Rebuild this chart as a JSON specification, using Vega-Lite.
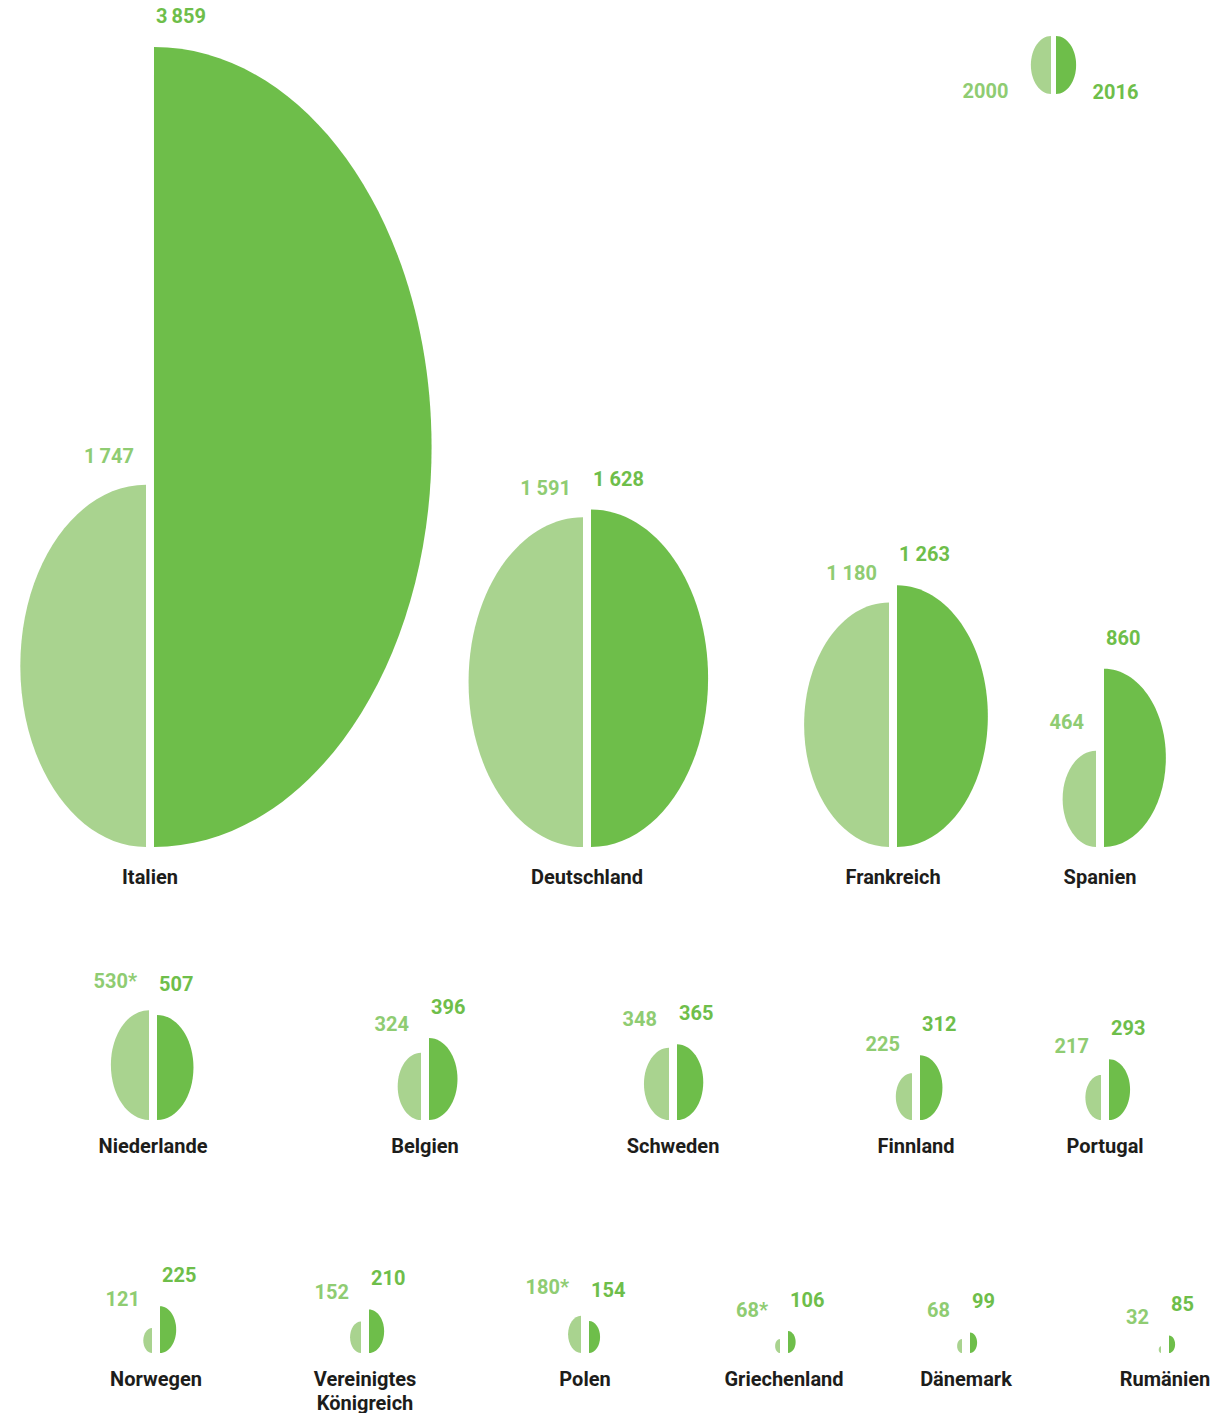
{
"$schema":"https://vega.github.io/schema/vega-lite/v6.json",
"padding":0,
"background":"white",
"spacing":0,
"config":{"view":{"stroke":null},"font":"Roboto","point":{"filled":true,"opacity":1,"strokeWidth":0},"text":{"fontSize":20,"fontWeight":"bold"}},
"data":{"values":[
{"country":"Italien","year":"2000","value":1747,"label":"1\u2009747"},
{"country":"Italien","year":"2016","value":3859,"label":"3\u2009859"},
{"country":"Deutschland","year":"2000","value":1591,"label":"1 591"},
{"country":"Deutschland","year":"2016","value":1628,"label":"1 628"},
{"country":"Frankreich","year":"2000","value":1180,"label":"1 180"},
{"country":"Frankreich","year":"2016","value":1263,"label":"1 263"},
{"country":"Spanien","year":"2000","value":464,"label":"464"},
{"country":"Spanien","year":"2016","value":860,"label":"860"},
{"country":"Niederlande","year":"2000","value":530,"label":"530*"},
{"country":"Niederlande","year":"2016","value":507,"label":"507"},
{"country":"Belgien","year":"2000","value":324,"label":"324"},
{"country":"Belgien","year":"2016","value":396,"label":"396"},
{"country":"Schweden","year":"2000","value":348,"label":"348"},
{"country":"Schweden","year":"2016","value":365,"label":"365"},
{"country":"Finnland","year":"2000","value":225,"label":"225"},
{"country":"Finnland","year":"2016","value":312,"label":"312"},
{"country":"Portugal","year":"2000","value":217,"label":"217"},
{"country":"Portugal","year":"2016","value":293,"label":"293"},
{"country":"Norwegen","year":"2000","value":121,"label":"121"},
{"country":"Norwegen","year":"2016","value":225,"label":"225"},
{"country":"Vereinigtes Königreich","year":"2000","value":152,"label":"152"},
{"country":"Vereinigtes Königreich","year":"2016","value":210,"label":"210"},
{"country":"Polen","year":"2000","value":180,"label":"180*"},
{"country":"Polen","year":"2016","value":154,"label":"154"},
{"country":"Griechenland","year":"2000","value":68,"label":"68*"},
{"country":"Griechenland","year":"2016","value":106,"label":"106"},
{"country":"Dänemark","year":"2000","value":68,"label":"68"},
{"country":"Dänemark","year":"2016","value":99,"label":"99"},
{"country":"Rumänien","year":"2000","value":32,"label":"32"},
{"country":"Rumänien","year":"2016","value":85,"label":"85"}
]},
"vconcat":[
{"spacing":0,"bounds":"flush","hconcat":[
{"width":587,"height":905,"encoding":{"x":{"datum":0.2555,"type":"quantitative","scale":{"domain":[0,1]},"axis":null}},"layer":[{"transform":[{"filter":"datum.country==='Italien'"}],"layer":[
{"encoding":{"y":{"datum":0,"type":"quantitative","scale":{"domain":[-279.8,4086],"nice":false,"zero":false},"axis":null},"size":{"field":"value","type":"quantitative","scale":{"type":"pow","exponent":2,"domain":[0,4000],"range":[0,687573]},"legend":null},"color":{"field":"year","type":"nominal","scale":{"domain":["2000","2016"],"range":["#a9d38f","#6ebe4a"]},"legend":null}},"layer":[{"transform":[{"filter":"datum.year==='2000'"}],"mark":{"type":"point","shape":"M0,0L0,-2A0.694,1,0,0,0,0,0Z","xOffset":-4}},{"transform":[{"filter":"datum.year==='2016'"}],"mark":{"type":"point","shape":"M0,0L0,-2A0.694,1,0,0,1,0,0Z","xOffset":4}}]},
{"transform":[{"filter":"datum.year==='2000'"}],"mark":{"type":"text","align":"right","dx":-16,"dy":-28,"fill":"#8fcc72"},"encoding":{"y":{"field":"value","type":"quantitative"},"text":{"field":"label"}}},
{"transform":[{"filter":"datum.year==='2016'"}],"mark":{"type":"text","align":"left","dx":6,"dy":-30,"fill":"#6ebe4a"},"encoding":{"y":{"field":"value","type":"quantitative"},"text":{"field":"label"}}},
{"transform":[{"filter":"datum.year==='2016'"}],"mark":{"type":"text","baseline":"top","dy":21,"fill":"#1d1d1b","lineBreak":" ","lineHeight":24},"encoding":{"y":{"datum":0,"type":"quantitative"},"text":{"field":"country"}}}
]}]},
{"width":306,"height":905,"encoding":{"x":{"datum":0,"type":"quantitative","scale":{"domain":[0,1]},"axis":null}},"layer":[{"transform":[{"filter":"datum.country==='Deutschland'"}],"layer":[
{"encoding":{"y":{"datum":0,"type":"quantitative","scale":{"domain":[-279.8,4086],"nice":false,"zero":false},"axis":null},"size":{"field":"value","type":"quantitative","scale":{"type":"pow","exponent":2,"domain":[0,4000],"range":[0,687573]},"legend":null},"color":{"field":"year","type":"nominal","scale":{"domain":["2000","2016"],"range":["#a9d38f","#6ebe4a"]},"legend":null}},"layer":[{"transform":[{"filter":"datum.year==='2000'"}],"mark":{"type":"point","shape":"M0,0L0,-2A0.694,1,0,0,0,0,0Z","xOffset":-4}},{"transform":[{"filter":"datum.year==='2016'"}],"mark":{"type":"point","shape":"M0,0L0,-2A0.694,1,0,0,1,0,0Z","xOffset":4}}]},
{"transform":[{"filter":"datum.year==='2000'"}],"mark":{"type":"text","align":"right","dx":-16,"dy":-28,"fill":"#8fcc72"},"encoding":{"y":{"field":"value","type":"quantitative"},"text":{"field":"label"}}},
{"transform":[{"filter":"datum.year==='2016'"}],"mark":{"type":"text","align":"left","dx":6,"dy":-30,"fill":"#6ebe4a"},"encoding":{"y":{"field":"value","type":"quantitative"},"text":{"field":"label"}}},
{"transform":[{"filter":"datum.year==='2016'"}],"mark":{"type":"text","baseline":"top","dy":21,"fill":"#1d1d1b","lineBreak":" ","lineHeight":24},"encoding":{"y":{"datum":0,"type":"quantitative"},"text":{"field":"country"}}}
]}]},
{"width":207,"height":905,"encoding":{"x":{"datum":0,"type":"quantitative","scale":{"domain":[0,1]},"axis":null}},"layer":[{"transform":[{"filter":"datum.country==='Frankreich'"}],"layer":[
{"encoding":{"y":{"datum":0,"type":"quantitative","scale":{"domain":[-279.8,4086],"nice":false,"zero":false},"axis":null},"size":{"field":"value","type":"quantitative","scale":{"type":"pow","exponent":2,"domain":[0,4000],"range":[0,687573]},"legend":null},"color":{"field":"year","type":"nominal","scale":{"domain":["2000","2016"],"range":["#a9d38f","#6ebe4a"]},"legend":null}},"layer":[{"transform":[{"filter":"datum.year==='2000'"}],"mark":{"type":"point","shape":"M0,0L0,-2A0.694,1,0,0,0,0,0Z","xOffset":-4}},{"transform":[{"filter":"datum.year==='2016'"}],"mark":{"type":"point","shape":"M0,0L0,-2A0.694,1,0,0,1,0,0Z","xOffset":4}}]},
{"transform":[{"filter":"datum.year==='2000'"}],"mark":{"type":"text","align":"right","dx":-16,"dy":-28,"fill":"#8fcc72"},"encoding":{"y":{"field":"value","type":"quantitative"},"text":{"field":"label"}}},
{"transform":[{"filter":"datum.year==='2016'"}],"mark":{"type":"text","align":"left","dx":6,"dy":-30,"fill":"#6ebe4a"},"encoding":{"y":{"field":"value","type":"quantitative"},"text":{"field":"label"}}},
{"transform":[{"filter":"datum.year==='2016'"}],"mark":{"type":"text","baseline":"top","dy":21,"fill":"#1d1d1b","lineBreak":" ","lineHeight":24},"encoding":{"y":{"datum":0,"type":"quantitative"},"text":{"field":"country"}}}
]}]},
{"width":111,"height":905,"encoding":{"x":{"datum":0,"type":"quantitative","scale":{"domain":[0,1]},"axis":null}},"layer":[{"transform":[{"filter":"datum.country==='Spanien'"}],"layer":[
{"encoding":{"y":{"datum":0,"type":"quantitative","scale":{"domain":[-279.8,4086],"nice":false,"zero":false},"axis":null},"size":{"field":"value","type":"quantitative","scale":{"type":"pow","exponent":2,"domain":[0,4000],"range":[0,687573]},"legend":null},"color":{"field":"year","type":"nominal","scale":{"domain":["2000","2016"],"range":["#a9d38f","#6ebe4a"]},"legend":null}},"layer":[{"transform":[{"filter":"datum.year==='2000'"}],"mark":{"type":"point","shape":"M0,0L0,-2A0.694,1,0,0,0,0,0Z","xOffset":-4}},{"transform":[{"filter":"datum.year==='2016'"}],"mark":{"type":"point","shape":"M0,0L0,-2A0.694,1,0,0,1,0,0Z","xOffset":4}}]},
{"transform":[{"filter":"datum.year==='2000'"}],"mark":{"type":"text","align":"right","dx":-16,"dy":-28,"fill":"#8fcc72"},"encoding":{"y":{"field":"value","type":"quantitative"},"text":{"field":"label"}}},
{"transform":[{"filter":"datum.year==='2016'"}],"mark":{"type":"text","align":"left","dx":6,"dy":-30,"fill":"#6ebe4a"},"encoding":{"y":{"field":"value","type":"quantitative"},"text":{"field":"label"}}},
{"transform":[{"filter":"datum.year==='2016'"}],"mark":{"type":"text","baseline":"top","dy":21,"fill":"#1d1d1b","lineBreak":" ","lineHeight":24},"encoding":{"y":{"datum":0,"type":"quantitative"},"text":{"field":"country"}}}
]},
{"data":{"values":[{"year":"2000","value":280},{"year":"2016","value":280}]},"encoding":{"x":{"datum":-0.419,"type":"quantitative"},"y":{"datum":3632,"type":"quantitative"}},"layer":[
{"transform":[{"filter":"datum.year==='2000'"}],"mark":{"type":"point","shape":"M0,0L0,-2A0.694,1,0,0,0,0,0Z","xOffset":-2.5},"encoding":{"size":{"field":"value","type":"quantitative","scale":{"type":"pow","exponent":2,"domain":[0,4000],"range":[0,687573]},"legend":null},"color":{"field":"year","type":"nominal","scale":{"domain":["2000","2016"],"range":["#a9d38f","#6ebe4a"]},"legend":null}}},
{"transform":[{"filter":"datum.year==='2016'"}],"mark":{"type":"point","shape":"M0,0L0,-2A0.694,1,0,0,1,0,0Z","xOffset":2.5},"encoding":{"size":{"field":"value","type":"quantitative","scale":{"type":"pow","exponent":2,"domain":[0,4000],"range":[0,687573]},"legend":null},"color":{"field":"year","type":"nominal","scale":{"domain":["2000","2016"],"range":["#a9d38f","#6ebe4a"]},"legend":null}}},
{"transform":[{"filter":"datum.year==='2000'"}],"mark":{"type":"text","align":"right","dx":-45,"dy":-2,"fill":"#8fcc72"},"encoding":{"text":{"field":"year"}}},
{"transform":[{"filter":"datum.year==='2016'"}],"mark":{"type":"text","align":"left","dx":39,"dy":-1,"fill":"#6ebe4a"},"encoding":{"text":{"field":"year"}}}
]}]}
]},
{"spacing":0,"bounds":"flush","hconcat":[
{"width":425,"height":270,"encoding":{"x":{"datum":0.36,"type":"quantitative","scale":{"domain":[0,1]},"axis":null}},"layer":[{"transform":[{"filter":"datum.country==='Niederlande'"}],"layer":[
{"encoding":{"y":{"datum":0,"type":"quantitative","scale":{"domain":[-265.3,1037],"nice":false,"zero":false},"axis":null},"size":{"field":"value","type":"quantitative","scale":{"type":"pow","exponent":2,"domain":[0,4000],"range":[0,687573]},"legend":null},"color":{"field":"year","type":"nominal","scale":{"domain":["2000","2016"],"range":["#a9d38f","#6ebe4a"]},"legend":null}},"layer":[{"transform":[{"filter":"datum.year==='2000'"}],"mark":{"type":"point","shape":"M0,0L0,-2A0.694,1,0,0,0,0,0Z","xOffset":-4}},{"transform":[{"filter":"datum.year==='2016'"}],"mark":{"type":"point","shape":"M0,0L0,-2A0.694,1,0,0,1,0,0Z","xOffset":4}}]},
{"transform":[{"filter":"datum.year==='2000'"}],"mark":{"type":"text","align":"right","dx":-16,"dy":-28,"fill":"#8fcc72"},"encoding":{"y":{"field":"value","type":"quantitative"},"text":{"field":"label"}}},
{"transform":[{"filter":"datum.year==='2016'"}],"mark":{"type":"text","align":"left","dx":6,"dy":-30,"fill":"#6ebe4a"},"encoding":{"y":{"field":"value","type":"quantitative"},"text":{"field":"label"}}},
{"transform":[{"filter":"datum.year==='2016'"}],"mark":{"type":"text","baseline":"top","dy":17,"fill":"#1d1d1b","lineBreak":" ","lineHeight":24},"encoding":{"y":{"datum":0,"type":"quantitative"},"text":{"field":"country"}}}
]}]},
{"width":248,"height":270,"encoding":{"x":{"datum":0,"type":"quantitative","scale":{"domain":[0,1]},"axis":null}},"layer":[{"transform":[{"filter":"datum.country==='Belgien'"}],"layer":[
{"encoding":{"y":{"datum":0,"type":"quantitative","scale":{"domain":[-265.3,1037],"nice":false,"zero":false},"axis":null},"size":{"field":"value","type":"quantitative","scale":{"type":"pow","exponent":2,"domain":[0,4000],"range":[0,687573]},"legend":null},"color":{"field":"year","type":"nominal","scale":{"domain":["2000","2016"],"range":["#a9d38f","#6ebe4a"]},"legend":null}},"layer":[{"transform":[{"filter":"datum.year==='2000'"}],"mark":{"type":"point","shape":"M0,0L0,-2A0.694,1,0,0,0,0,0Z","xOffset":-4}},{"transform":[{"filter":"datum.year==='2016'"}],"mark":{"type":"point","shape":"M0,0L0,-2A0.694,1,0,0,1,0,0Z","xOffset":4}}]},
{"transform":[{"filter":"datum.year==='2000'"}],"mark":{"type":"text","align":"right","dx":-16,"dy":-28,"fill":"#8fcc72"},"encoding":{"y":{"field":"value","type":"quantitative"},"text":{"field":"label"}}},
{"transform":[{"filter":"datum.year==='2016'"}],"mark":{"type":"text","align":"left","dx":6,"dy":-30,"fill":"#6ebe4a"},"encoding":{"y":{"field":"value","type":"quantitative"},"text":{"field":"label"}}},
{"transform":[{"filter":"datum.year==='2016'"}],"mark":{"type":"text","baseline":"top","dy":17,"fill":"#1d1d1b","lineBreak":" ","lineHeight":24},"encoding":{"y":{"datum":0,"type":"quantitative"},"text":{"field":"country"}}}
]}]},
{"width":243,"height":270,"encoding":{"x":{"datum":0,"type":"quantitative","scale":{"domain":[0,1]},"axis":null}},"layer":[{"transform":[{"filter":"datum.country==='Schweden'"}],"layer":[
{"encoding":{"y":{"datum":0,"type":"quantitative","scale":{"domain":[-265.3,1037],"nice":false,"zero":false},"axis":null},"size":{"field":"value","type":"quantitative","scale":{"type":"pow","exponent":2,"domain":[0,4000],"range":[0,687573]},"legend":null},"color":{"field":"year","type":"nominal","scale":{"domain":["2000","2016"],"range":["#a9d38f","#6ebe4a"]},"legend":null}},"layer":[{"transform":[{"filter":"datum.year==='2000'"}],"mark":{"type":"point","shape":"M0,0L0,-2A0.694,1,0,0,0,0,0Z","xOffset":-4}},{"transform":[{"filter":"datum.year==='2016'"}],"mark":{"type":"point","shape":"M0,0L0,-2A0.694,1,0,0,1,0,0Z","xOffset":4}}]},
{"transform":[{"filter":"datum.year==='2000'"}],"mark":{"type":"text","align":"right","dx":-16,"dy":-28,"fill":"#8fcc72"},"encoding":{"y":{"field":"value","type":"quantitative"},"text":{"field":"label"}}},
{"transform":[{"filter":"datum.year==='2016'"}],"mark":{"type":"text","align":"left","dx":6,"dy":-30,"fill":"#6ebe4a"},"encoding":{"y":{"field":"value","type":"quantitative"},"text":{"field":"label"}}},
{"transform":[{"filter":"datum.year==='2016'"}],"mark":{"type":"text","baseline":"top","dy":17,"fill":"#1d1d1b","lineBreak":" ","lineHeight":24},"encoding":{"y":{"datum":0,"type":"quantitative"},"text":{"field":"country"}}}
]}]},
{"width":189,"height":270,"encoding":{"x":{"datum":0,"type":"quantitative","scale":{"domain":[0,1]},"axis":null}},"layer":[{"transform":[{"filter":"datum.country==='Finnland'"}],"layer":[
{"encoding":{"y":{"datum":0,"type":"quantitative","scale":{"domain":[-265.3,1037],"nice":false,"zero":false},"axis":null},"size":{"field":"value","type":"quantitative","scale":{"type":"pow","exponent":2,"domain":[0,4000],"range":[0,687573]},"legend":null},"color":{"field":"year","type":"nominal","scale":{"domain":["2000","2016"],"range":["#a9d38f","#6ebe4a"]},"legend":null}},"layer":[{"transform":[{"filter":"datum.year==='2000'"}],"mark":{"type":"point","shape":"M0,0L0,-2A0.694,1,0,0,0,0,0Z","xOffset":-4}},{"transform":[{"filter":"datum.year==='2016'"}],"mark":{"type":"point","shape":"M0,0L0,-2A0.694,1,0,0,1,0,0Z","xOffset":4}}]},
{"transform":[{"filter":"datum.year==='2000'"}],"mark":{"type":"text","align":"right","dx":-16,"dy":-28,"fill":"#8fcc72"},"encoding":{"y":{"field":"value","type":"quantitative"},"text":{"field":"label"}}},
{"transform":[{"filter":"datum.year==='2016'"}],"mark":{"type":"text","align":"left","dx":6,"dy":-30,"fill":"#6ebe4a"},"encoding":{"y":{"field":"value","type":"quantitative"},"text":{"field":"label"}}},
{"transform":[{"filter":"datum.year==='2016'"}],"mark":{"type":"text","baseline":"top","dy":17,"fill":"#1d1d1b","lineBreak":" ","lineHeight":24},"encoding":{"y":{"datum":0,"type":"quantitative"},"text":{"field":"country"}}}
]}]},
{"width":106,"height":270,"encoding":{"x":{"datum":0,"type":"quantitative","scale":{"domain":[0,1]},"axis":null}},"layer":[{"transform":[{"filter":"datum.country==='Portugal'"}],"layer":[
{"encoding":{"y":{"datum":0,"type":"quantitative","scale":{"domain":[-265.3,1037],"nice":false,"zero":false},"axis":null},"size":{"field":"value","type":"quantitative","scale":{"type":"pow","exponent":2,"domain":[0,4000],"range":[0,687573]},"legend":null},"color":{"field":"year","type":"nominal","scale":{"domain":["2000","2016"],"range":["#a9d38f","#6ebe4a"]},"legend":null}},"layer":[{"transform":[{"filter":"datum.year==='2000'"}],"mark":{"type":"point","shape":"M0,0L0,-2A0.694,1,0,0,0,0,0Z","xOffset":-4}},{"transform":[{"filter":"datum.year==='2016'"}],"mark":{"type":"point","shape":"M0,0L0,-2A0.694,1,0,0,1,0,0Z","xOffset":4}}]},
{"transform":[{"filter":"datum.year==='2000'"}],"mark":{"type":"text","align":"right","dx":-16,"dy":-28,"fill":"#8fcc72"},"encoding":{"y":{"field":"value","type":"quantitative"},"text":{"field":"label"}}},
{"transform":[{"filter":"datum.year==='2016'"}],"mark":{"type":"text","align":"left","dx":6,"dy":-30,"fill":"#6ebe4a"},"encoding":{"y":{"field":"value","type":"quantitative"},"text":{"field":"label"}}},
{"transform":[{"filter":"datum.year==='2016'"}],"mark":{"type":"text","baseline":"top","dy":17,"fill":"#1d1d1b","lineBreak":" ","lineHeight":24},"encoding":{"y":{"datum":0,"type":"quantitative"},"text":{"field":"country"}}}
]}]}
]},
{"spacing":0,"bounds":"flush","hconcat":[
{"width":365,"height":238,"encoding":{"x":{"datum":0.4274,"type":"quantitative","scale":{"domain":[0,1]},"axis":null}},"layer":[{"transform":[{"filter":"datum.country==='Norwegen'"}],"layer":[
{"encoding":{"y":{"datum":0,"type":"quantitative","scale":{"domain":[-289.4,858.7],"nice":false,"zero":false},"axis":null},"size":{"field":"value","type":"quantitative","scale":{"type":"pow","exponent":2,"domain":[0,4000],"range":[0,687573]},"legend":null},"color":{"field":"year","type":"nominal","scale":{"domain":["2000","2016"],"range":["#a9d38f","#6ebe4a"]},"legend":null}},"layer":[{"transform":[{"filter":"datum.year==='2000'"}],"mark":{"type":"point","shape":"M0,0L0,-2A0.694,1,0,0,0,0,0Z","xOffset":-4}},{"transform":[{"filter":"datum.year==='2016'"}],"mark":{"type":"point","shape":"M0,0L0,-2A0.694,1,0,0,1,0,0Z","xOffset":4}}]},
{"transform":[{"filter":"datum.year==='2000'"}],"mark":{"type":"text","align":"right","dx":-16,"dy":-28,"fill":"#8fcc72"},"encoding":{"y":{"field":"value","type":"quantitative"},"text":{"field":"label"}}},
{"transform":[{"filter":"datum.year==='2016'"}],"mark":{"type":"text","align":"left","dx":6,"dy":-30,"fill":"#6ebe4a"},"encoding":{"y":{"field":"value","type":"quantitative"},"text":{"field":"label"}}},
{"transform":[{"filter":"datum.year==='2016'"}],"mark":{"type":"text","baseline":"top","dy":17,"fill":"#1d1d1b","lineBreak":" ","lineHeight":24},"encoding":{"y":{"datum":0,"type":"quantitative"},"text":{"field":"country"}}}
]}]},
{"width":220,"height":238,"encoding":{"x":{"datum":0,"type":"quantitative","scale":{"domain":[0,1]},"axis":null}},"layer":[{"transform":[{"filter":"datum.country==='Vereinigtes Königreich'"}],"layer":[
{"encoding":{"y":{"datum":0,"type":"quantitative","scale":{"domain":[-289.4,858.7],"nice":false,"zero":false},"axis":null},"size":{"field":"value","type":"quantitative","scale":{"type":"pow","exponent":2,"domain":[0,4000],"range":[0,687573]},"legend":null},"color":{"field":"year","type":"nominal","scale":{"domain":["2000","2016"],"range":["#a9d38f","#6ebe4a"]},"legend":null}},"layer":[{"transform":[{"filter":"datum.year==='2000'"}],"mark":{"type":"point","shape":"M0,0L0,-2A0.694,1,0,0,0,0,0Z","xOffset":-4}},{"transform":[{"filter":"datum.year==='2016'"}],"mark":{"type":"point","shape":"M0,0L0,-2A0.694,1,0,0,1,0,0Z","xOffset":4}}]},
{"transform":[{"filter":"datum.year==='2000'"}],"mark":{"type":"text","align":"right","dx":-16,"dy":-28,"fill":"#8fcc72"},"encoding":{"y":{"field":"value","type":"quantitative"},"text":{"field":"label"}}},
{"transform":[{"filter":"datum.year==='2016'"}],"mark":{"type":"text","align":"left","dx":6,"dy":-30,"fill":"#6ebe4a"},"encoding":{"y":{"field":"value","type":"quantitative"},"text":{"field":"label"}}},
{"transform":[{"filter":"datum.year==='2016'"}],"mark":{"type":"text","baseline":"top","dy":17,"fill":"#1d1d1b","lineBreak":" ","lineHeight":24},"encoding":{"y":{"datum":0,"type":"quantitative"},"text":{"field":"country"}}}
]}]},
{"width":199,"height":238,"encoding":{"x":{"datum":0,"type":"quantitative","scale":{"domain":[0,1]},"axis":null}},"layer":[{"transform":[{"filter":"datum.country==='Polen'"}],"layer":[
{"encoding":{"y":{"datum":0,"type":"quantitative","scale":{"domain":[-289.4,858.7],"nice":false,"zero":false},"axis":null},"size":{"field":"value","type":"quantitative","scale":{"type":"pow","exponent":2,"domain":[0,4000],"range":[0,687573]},"legend":null},"color":{"field":"year","type":"nominal","scale":{"domain":["2000","2016"],"range":["#a9d38f","#6ebe4a"]},"legend":null}},"layer":[{"transform":[{"filter":"datum.year==='2000'"}],"mark":{"type":"point","shape":"M0,0L0,-2A0.694,1,0,0,0,0,0Z","xOffset":-4}},{"transform":[{"filter":"datum.year==='2016'"}],"mark":{"type":"point","shape":"M0,0L0,-2A0.694,1,0,0,1,0,0Z","xOffset":4}}]},
{"transform":[{"filter":"datum.year==='2000'"}],"mark":{"type":"text","align":"right","dx":-16,"dy":-28,"fill":"#8fcc72"},"encoding":{"y":{"field":"value","type":"quantitative"},"text":{"field":"label"}}},
{"transform":[{"filter":"datum.year==='2016'"}],"mark":{"type":"text","align":"left","dx":6,"dy":-30,"fill":"#6ebe4a"},"encoding":{"y":{"field":"value","type":"quantitative"},"text":{"field":"label"}}},
{"transform":[{"filter":"datum.year==='2016'"}],"mark":{"type":"text","baseline":"top","dy":17,"fill":"#1d1d1b","lineBreak":" ","lineHeight":24},"encoding":{"y":{"datum":0,"type":"quantitative"},"text":{"field":"country"}}}
]}]},
{"width":182,"height":238,"encoding":{"x":{"datum":0,"type":"quantitative","scale":{"domain":[0,1]},"axis":null}},"layer":[{"transform":[{"filter":"datum.country==='Griechenland'"}],"layer":[
{"encoding":{"y":{"datum":0,"type":"quantitative","scale":{"domain":[-289.4,858.7],"nice":false,"zero":false},"axis":null},"size":{"field":"value","type":"quantitative","scale":{"type":"pow","exponent":2,"domain":[0,4000],"range":[0,687573]},"legend":null},"color":{"field":"year","type":"nominal","scale":{"domain":["2000","2016"],"range":["#a9d38f","#6ebe4a"]},"legend":null}},"layer":[{"transform":[{"filter":"datum.year==='2000'"}],"mark":{"type":"point","shape":"M0,0L0,-2A0.694,1,0,0,0,0,0Z","xOffset":-4}},{"transform":[{"filter":"datum.year==='2016'"}],"mark":{"type":"point","shape":"M0,0L0,-2A0.694,1,0,0,1,0,0Z","xOffset":4}}]},
{"transform":[{"filter":"datum.year==='2000'"}],"mark":{"type":"text","align":"right","dx":-16,"dy":-28,"fill":"#8fcc72"},"encoding":{"y":{"field":"value","type":"quantitative"},"text":{"field":"label"}}},
{"transform":[{"filter":"datum.year==='2016'"}],"mark":{"type":"text","align":"left","dx":6,"dy":-30,"fill":"#6ebe4a"},"encoding":{"y":{"field":"value","type":"quantitative"},"text":{"field":"label"}}},
{"transform":[{"filter":"datum.year==='2016'"}],"mark":{"type":"text","baseline":"top","dy":17,"fill":"#1d1d1b","lineBreak":" ","lineHeight":24},"encoding":{"y":{"datum":0,"type":"quantitative"},"text":{"field":"country"}}}
]}]},
{"width":199,"height":238,"encoding":{"x":{"datum":0,"type":"quantitative","scale":{"domain":[0,1]},"axis":null}},"layer":[{"transform":[{"filter":"datum.country==='Dänemark'"}],"layer":[
{"encoding":{"y":{"datum":0,"type":"quantitative","scale":{"domain":[-289.4,858.7],"nice":false,"zero":false},"axis":null},"size":{"field":"value","type":"quantitative","scale":{"type":"pow","exponent":2,"domain":[0,4000],"range":[0,687573]},"legend":null},"color":{"field":"year","type":"nominal","scale":{"domain":["2000","2016"],"range":["#a9d38f","#6ebe4a"]},"legend":null}},"layer":[{"transform":[{"filter":"datum.year==='2000'"}],"mark":{"type":"point","shape":"M0,0L0,-2A0.694,1,0,0,0,0,0Z","xOffset":-4}},{"transform":[{"filter":"datum.year==='2016'"}],"mark":{"type":"point","shape":"M0,0L0,-2A0.694,1,0,0,1,0,0Z","xOffset":4}}]},
{"transform":[{"filter":"datum.year==='2000'"}],"mark":{"type":"text","align":"right","dx":-16,"dy":-28,"fill":"#8fcc72"},"encoding":{"y":{"field":"value","type":"quantitative"},"text":{"field":"label"}}},
{"transform":[{"filter":"datum.year==='2016'"}],"mark":{"type":"text","align":"left","dx":6,"dy":-30,"fill":"#6ebe4a"},"encoding":{"y":{"field":"value","type":"quantitative"},"text":{"field":"label"}}},
{"transform":[{"filter":"datum.year==='2016'"}],"mark":{"type":"text","baseline":"top","dy":17,"fill":"#1d1d1b","lineBreak":" ","lineHeight":24},"encoding":{"y":{"datum":0,"type":"quantitative"},"text":{"field":"country"}}}
]}]},
{"width":46,"height":238,"encoding":{"x":{"datum":0,"type":"quantitative","scale":{"domain":[0,1]},"axis":null}},"layer":[{"transform":[{"filter":"datum.country==='Rumänien'"}],"layer":[
{"encoding":{"y":{"datum":0,"type":"quantitative","scale":{"domain":[-289.4,858.7],"nice":false,"zero":false},"axis":null},"size":{"field":"value","type":"quantitative","scale":{"type":"pow","exponent":2,"domain":[0,4000],"range":[0,687573]},"legend":null},"color":{"field":"year","type":"nominal","scale":{"domain":["2000","2016"],"range":["#a9d38f","#6ebe4a"]},"legend":null}},"layer":[{"transform":[{"filter":"datum.year==='2000'"}],"mark":{"type":"point","shape":"M0,0L0,-2A0.694,1,0,0,0,0,0Z","xOffset":-4}},{"transform":[{"filter":"datum.year==='2016'"}],"mark":{"type":"point","shape":"M0,0L0,-2A0.694,1,0,0,1,0,0Z","xOffset":4}}]},
{"transform":[{"filter":"datum.year==='2000'"}],"mark":{"type":"text","align":"right","dx":-16,"dy":-28,"fill":"#8fcc72"},"encoding":{"y":{"field":"value","type":"quantitative"},"text":{"field":"label"}}},
{"transform":[{"filter":"datum.year==='2016'"}],"mark":{"type":"text","align":"left","dx":6,"dy":-30,"fill":"#6ebe4a"},"encoding":{"y":{"field":"value","type":"quantitative"},"text":{"field":"label"}}},
{"transform":[{"filter":"datum.year==='2016'"}],"mark":{"type":"text","baseline":"top","dy":17,"fill":"#1d1d1b","lineBreak":" ","lineHeight":24},"encoding":{"y":{"datum":0,"type":"quantitative"},"text":{"field":"country"}}}
]}]}
]}
]
}
